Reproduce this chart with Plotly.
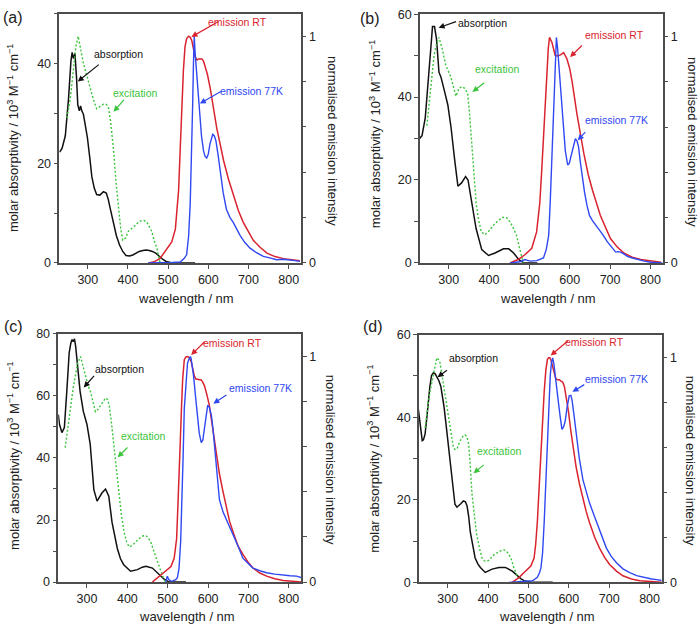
import plotly.graph_objects as go

FONT = "Liberation Sans, Arial, sans-serif"
AXIS_COL = "#4d4d4d"
BLACK, GREEN, RED, BLUE = "#111111", "#3cc43c", "#d9232e", "#2f48f2"

# ---- panel (a) ----
a_abs_nm = [230, 236, 244, 252, 258, 261, 264, 268, 272, 275, 279, 282, 285, 289, 294, 299, 305, 310, 316, 322, 330, 339, 346, 351, 357, 363, 371, 379, 387, 395, 404, 412, 420, 428, 437, 445, 453, 461, 470, 478, 487, 495, 503, 511, 567]
a_abs_val = [22.2, 23.0, 25.5, 33.0, 40.5, 42.2, 41.0, 42.0, 37.0, 31.7, 30.5, 31.5, 30.5, 29.8, 27.5, 25.1, 21.0, 17.3, 15.0, 13.7, 13.6, 14.3, 14.0, 12.7, 10.5, 8.2, 5.5, 3.6, 2.3, 1.5, 1.4, 1.6, 2.0, 2.3, 2.5, 2.6, 2.5, 2.3, 1.9, 1.3, 0.7, 0.3, 0.1, 0.0, 0.0]
a_exc_nm = [248, 256, 264, 270, 276, 282, 289, 297, 306, 314, 322, 330, 339, 345, 351, 357, 364, 370, 376, 382, 387, 394, 401, 409, 418, 426, 434, 440, 447, 453, 459, 465, 472, 476, 480]
a_exc_val = [0.64, 0.72, 0.85, 0.95, 1.0, 0.94, 0.88, 0.83, 0.77, 0.72, 0.68, 0.69, 0.70, 0.70, 0.69, 0.62, 0.50, 0.36, 0.24, 0.15, 0.10, 0.11, 0.14, 0.15, 0.165, 0.18, 0.187, 0.187, 0.18, 0.16, 0.14, 0.10, 0.065, 0.03, 0.0]
a_rt_nm = [451, 465, 480, 496, 509, 518, 526, 530, 534, 538, 542, 546, 551, 555, 559, 563, 567, 572, 576, 580, 584, 588, 592, 598, 605, 613, 621, 630, 638, 650, 663, 675, 687, 700, 712, 728, 746, 766, 787, 808, 828]
a_rt_val = [0.0, 0.005, 0.02, 0.058, 0.093, 0.15, 0.32, 0.50, 0.70, 0.85, 0.954, 0.99, 1.0, 0.995, 0.98, 0.95, 0.91, 0.895, 0.9, 0.9, 0.9, 0.89, 0.868, 0.83, 0.768, 0.68, 0.595, 0.52, 0.452, 0.37, 0.294, 0.23, 0.179, 0.135, 0.1, 0.07, 0.043, 0.028, 0.019, 0.014, 0.01]
a_77k_nm = [450, 480, 510, 530, 540, 546, 551, 555, 558, 561, 563, 565, 567, 571, 575, 579, 583, 588, 592, 596, 600, 604, 608, 611, 615, 619, 624, 629, 637, 645, 654, 662, 670, 679, 691, 704, 720, 737, 753, 770, 786, 803, 816, 828]
a_77k_val = [0.0, 0.0, 0.002, 0.004, 0.02, 0.036, 0.12, 0.265, 0.45, 0.696, 0.88, 1.0, 0.93, 0.84, 0.75, 0.653, 0.56, 0.495, 0.47, 0.463, 0.48, 0.524, 0.55, 0.567, 0.56, 0.538, 0.48, 0.41, 0.31, 0.237, 0.2, 0.179, 0.15, 0.122, 0.09, 0.065, 0.045, 0.029, 0.022, 0.014, 0.016, 0.014, 0.01, 0.007]

# ---- panel (b) ----
b_abs_nm = [227, 234, 242, 247, 252, 256, 260, 265, 270, 273, 276, 281, 285, 290, 298, 306, 315, 323, 332, 342, 348, 357, 368, 382, 399, 415, 436, 449, 461, 474, 486, 520]
b_abs_val = [29.9, 30.7, 35.0, 40.5, 46.0, 52.0, 57.0, 57.0, 53.9, 50.0, 46.0, 44.8, 43.5, 41.3, 38.1, 32.6, 24.8, 18.5, 19.3, 20.8, 20.0, 14.6, 8.3, 3.2, 1.8, 2.4, 3.4, 3.4, 2.4, 0.8, 0.0, 0.0]
b_exc_nm = [246, 252, 259, 264, 269, 276, 284, 293, 305, 312, 318, 326, 333, 339, 347, 351, 356, 362, 368, 374, 381, 390, 398, 406, 414, 425, 435, 444, 452, 460, 468, 475, 481, 485]
b_exc_val = [0.607, 0.72, 0.845, 0.92, 0.961, 0.997, 0.947, 0.874, 0.824, 0.78, 0.737, 0.773, 0.78, 0.773, 0.752, 0.68, 0.557, 0.41, 0.267, 0.19, 0.137, 0.125, 0.137, 0.155, 0.173, 0.19, 0.202, 0.2, 0.181, 0.155, 0.123, 0.07, 0.022, 0.0]
b_rt_nm = [452, 472, 489, 506, 518, 526, 531, 535, 539, 543, 547, 550, 556, 564, 570, 577, 585, 593, 600, 606, 618, 635, 646, 656, 676, 701, 718, 735, 755, 776, 800, 826]
b_rt_val = [0.0, 0.015, 0.036, 0.065, 0.137, 0.267, 0.42, 0.557, 0.71, 0.845, 0.95, 0.997, 0.975, 0.918, 0.915, 0.92, 0.93, 0.903, 0.86, 0.802, 0.658, 0.484, 0.39, 0.325, 0.21, 0.108, 0.07, 0.043, 0.025, 0.015, 0.008, 0.003]
b_77k_nm = [452, 477, 489, 502, 518, 535, 542, 548, 552, 556, 559, 562, 565, 567, 570, 573, 577, 581, 585, 589, 595, 599, 603, 608, 614, 618, 622, 626, 631, 637, 643, 649, 656, 664, 672, 682, 693, 704, 714, 720, 726, 734, 743, 755, 768, 785, 801, 830]
b_77k_val = [0.0, 0.005, 0.015, 0.008, 0.01, 0.022, 0.06, 0.123, 0.28, 0.484, 0.64, 0.773, 0.92, 0.997, 0.95, 0.874, 0.76, 0.658, 0.57, 0.498, 0.433, 0.44, 0.47, 0.51, 0.549, 0.54, 0.513, 0.45, 0.383, 0.31, 0.253, 0.21, 0.188, 0.17, 0.152, 0.125, 0.094, 0.07, 0.048, 0.05, 0.048, 0.04, 0.029, 0.022, 0.015, 0.008, 0.003, 0.0]

# ---- panel (c) ----
c_abs_nm = [229, 232, 238, 244, 250, 256, 260, 263, 266, 269, 272, 275, 279, 283, 291, 300, 308, 312, 317, 325, 331, 337, 346, 354, 362, 368, 375, 383, 391, 408, 425, 437, 446, 462, 475, 483, 491, 504, 545]
c_abs_val = [54.0, 50.8, 48.2, 49.8, 61.4, 74.0, 77.0, 78.2, 77.5, 78.4, 76.0, 71.9, 66.0, 61.4, 55.0, 50.8, 44.5, 37.0, 29.8, 26.1, 27.5, 28.7, 30.0, 27.7, 19.3, 15.0, 10.9, 7.5, 5.6, 3.5, 4.0, 4.8, 5.1, 4.5, 3.0, 2.0, 0.9, 0.0, 0.0]
c_exc_nm = [246, 252, 259, 265, 271, 277, 284, 290, 296, 302, 309, 315, 321, 327, 334, 340, 346, 351, 355, 361, 367, 373, 379, 385, 392, 398, 404, 410, 417, 425, 433, 440, 446, 452, 458, 464, 471, 477, 483, 489, 494]
c_exc_val = [0.596, 0.68, 0.769, 0.85, 0.913, 0.97, 1.0, 0.96, 0.913, 0.875, 0.842, 0.8, 0.755, 0.765, 0.784, 0.80, 0.816, 0.81, 0.784, 0.70, 0.596, 0.49, 0.394, 0.3, 0.221, 0.18, 0.156, 0.16, 0.171, 0.185, 0.199, 0.205, 0.206, 0.195, 0.177, 0.145, 0.106, 0.075, 0.048, 0.02, 0.0]
c_rt_nm = [462, 479, 495, 508, 516, 522, 525, 529, 531, 534, 537, 541, 545, 549, 553, 558, 562, 566, 570, 574, 578, 583, 587, 591, 597, 603, 609, 616, 622, 628, 637, 645, 653, 662, 674, 687, 699, 711, 728, 745, 765, 786, 810, 832]
c_rt_val = [0.0, 0.026, 0.048, 0.069, 0.106, 0.192, 0.33, 0.48, 0.62, 0.769, 0.9, 0.986, 0.998, 1.0, 0.995, 0.978, 0.95, 0.913, 0.9, 0.899, 0.898, 0.896, 0.885, 0.87, 0.83, 0.784, 0.71, 0.625, 0.55, 0.48, 0.4, 0.336, 0.27, 0.221, 0.16, 0.12, 0.088, 0.062, 0.04, 0.026, 0.015, 0.007, 0.003, 0.0]
c_77k_nm = [495, 499, 502, 504, 508, 512, 516, 520, 524, 528, 532, 535, 538, 541, 545, 549, 553, 556, 558, 561, 564, 569, 574, 578, 583, 587, 591, 595, 599, 603, 608, 612, 616, 622, 628, 637, 645, 653, 662, 674, 686, 699, 711, 728, 745, 765, 786, 803, 819, 832]
c_77k_val = [0.0, 0.026, 0.012, 0.01, 0.004, 0.005, 0.006, 0.01, 0.02, 0.062, 0.18, 0.336, 0.55, 0.769, 0.9, 0.971, 0.99, 1.0, 0.99, 0.96, 0.913, 0.82, 0.726, 0.66, 0.618, 0.63, 0.683, 0.74, 0.784, 0.775, 0.74, 0.68, 0.596, 0.47, 0.365, 0.31, 0.279, 0.245, 0.206, 0.16, 0.106, 0.085, 0.062, 0.05, 0.041, 0.035, 0.03, 0.028, 0.026, 0.019]

# ---- panel (d) ----
d_abs_nm = [226, 231, 234, 237, 240, 244, 248, 252, 256, 260, 265, 269, 274, 278, 283, 287, 291, 295, 302, 310, 318, 323, 327, 333, 339, 344, 348, 352, 356, 362, 368, 375, 381, 393, 410, 427, 443, 460, 472, 481, 489, 506, 560]
d_abs_val = [43.0, 39.1, 36.0, 34.3, 34.5, 35.9, 39.5, 43.8, 47.5, 50.1, 50.8, 50.5, 49.7, 48.9, 47.5, 45.4, 42.5, 39.1, 32.8, 26.4, 18.9, 18.2, 18.5, 19.1, 19.7, 19.5, 18.5, 16.0, 12.2, 9.0, 5.9, 4.4, 3.6, 2.4, 3.2, 3.6, 3.6, 2.7, 1.6, 0.9, 0.4, 0.0, 0.0]
d_exc_nm = [244, 250, 256, 260, 265, 269, 273, 277, 281, 285, 290, 296, 302, 308, 314, 318, 323, 329, 335, 339, 343, 348, 352, 356, 360, 366, 372, 379, 385, 391, 398, 404, 410, 418, 427, 433, 439, 445, 452, 458, 464, 468, 472, 477, 481]
d_exc_val = [0.686, 0.77, 0.846, 0.88, 0.918, 0.96, 0.997, 0.99, 0.976, 0.93, 0.874, 0.8, 0.73, 0.66, 0.6, 0.59, 0.592, 0.62, 0.643, 0.65, 0.655, 0.645, 0.614, 0.52, 0.397, 0.3, 0.209, 0.15, 0.108, 0.095, 0.094, 0.1, 0.115, 0.127, 0.137, 0.142, 0.144, 0.14, 0.123, 0.1, 0.065, 0.045, 0.029, 0.012, 0.0]
d_rt_nm = [460, 477, 493, 506, 514, 518, 522, 526, 531, 535, 539, 543, 547, 550, 553, 556, 560, 564, 568, 572, 576, 580, 585, 589, 593, 599, 605, 611, 618, 626, 635, 643, 651, 664, 676, 689, 701, 718, 734, 755, 776, 800, 830]
d_rt_val = [0.0, 0.022, 0.05, 0.072, 0.108, 0.17, 0.267, 0.41, 0.556, 0.7, 0.846, 0.94, 0.99, 0.997, 0.997, 0.985, 0.961, 0.93, 0.903, 0.9, 0.9, 0.895, 0.889, 0.87, 0.831, 0.76, 0.672, 0.59, 0.513, 0.44, 0.369, 0.315, 0.267, 0.2, 0.152, 0.11, 0.079, 0.05, 0.029, 0.015, 0.007, 0.004, 0.0]
d_77k_nm = [452, 485, 510, 522, 527, 531, 535, 539, 543, 547, 551, 554, 557, 560, 563, 566, 570, 575, 579, 583, 587, 591, 596, 601, 605, 608, 613, 618, 626, 635, 643, 651, 662, 672, 683, 693, 705, 718, 734, 751, 768, 785, 805, 818, 830]
d_77k_val = [0.0, 0.003, 0.007, 0.022, 0.04, 0.065, 0.13, 0.267, 0.45, 0.629, 0.8, 0.918, 0.975, 0.997, 0.97, 0.918, 0.85, 0.788, 0.73, 0.679, 0.69, 0.716, 0.78, 0.828, 0.83, 0.809, 0.74, 0.657, 0.55, 0.455, 0.4, 0.354, 0.3, 0.253, 0.2, 0.152, 0.115, 0.087, 0.06, 0.043, 0.03, 0.022, 0.015, 0.012, 0.008]

X_RANGE = [229, 830]
X_TICKS = [300, 400, 500, 600, 700, 800]
RIGHT_TICKS = [0, 0.2, 0.4, 0.6, 0.8, 1.0]
RIGHT_TEXT = ["0", "", "", "", "", "1"]

W, H = 700, 635


def px_x(x):
    return min(1.0, max(0.0, x / W))


def px_y(y):
    return min(1.0, max(0.0, 1 - y / H))


# per panel: label, frame box in window pixels (left, right, top, bottom), left max, data, label spots
panels = [
    dict(label="(a)", box=(59.3, 300.7, 6.7, 261.7), ymax=50,
         data=(a_abs_nm, a_abs_val, a_exc_nm, a_exc_val, a_rt_nm, a_rt_val, a_77k_nm, a_77k_val),
         notes=[("absorption", BLACK, (376, 0.92), (331, 0.88), (275, 0.80)),
                ("excitation", GREEN, (418, 0.75), (393, 0.726), (364, 0.667)),
                ("emission RT", RED, (673, 1.062), (629, 1.069), (558, 0.997)),
                ("emission 77K", BLUE, (707, 0.76), (635, 0.76), (579, 0.703))],
         lab=(13, 11), xt=(186, 298), yl=(13, 134), yr=(332, 137)),
    dict(label="(b)", box=(420, 662.5, 7.3, 261.7), ymax=60,
         data=(b_abs_nm, b_abs_val, b_exc_nm, b_exc_val, b_rt_nm, b_rt_val, b_77k_nm, b_77k_val),
         notes=[("absorption", BLACK, (385, 1.062), (322, 1.069), (275, 1.04)),
                ("excitation", GREEN, (422, 0.857), (392, 0.802), (359, 0.756)),
                ("emission RT", RED, (711, 1.007), (634, 0.968), (601, 0.91)),
                ("emission 77K", BLUE, (717, 0.632), (642, 0.585), (620, 0.542))],
         lab=(370, 12), xt=(548, 298), yl=(375, 130), yr=(692, 138)),
    dict(label="(c)", box=(58.3, 301, 334.3, 588), ymax=80,
         data=(c_abs_nm, c_abs_val, c_exc_nm, c_exc_val, c_rt_nm, c_rt_val, c_77k_nm, c_77k_val),
         notes=[("absorption", BLACK, (381, 0.945), (321, 0.921), (292, 0.863)),
                ("excitation", GREEN, (441, 0.649), (404, 0.603), (376, 0.553)),
                ("emission RT", RED, (661, 1.061), (595, 1.072), (558, 1.007)),
                ("emission 77K", BLUE, (730, 0.86), (649, 0.834), (613, 0.791))],
         lab=(13, 327), xt=(187, 623), yl=(13, 459), yr=(330, 463)),
    dict(label="(d)", box=(419, 661.7, 335, 588.3), ymax=60,
         data=(d_abs_nm, d_abs_val, d_exc_nm, d_exc_val, d_rt_nm, d_rt_val, d_77k_nm, d_77k_val),
         notes=[("absorption", BLACK, (364, 0.997), (302, 0.947), (275, 0.911)),
                ("excitation", GREEN, (428, 0.582), (393, 0.527), (364, 0.484)),
                ("emission RT", RED, (663, 1.065), (601, 1.077), (555, 1.007)),
                ("emission 77K", BLUE, (717, 0.903), (642, 0.882), (609, 0.846))],
         lab=(373, 327), xt=(547, 623), yl=(373, 462), yr=(690, 464)),
]

fig = go.Figure()
annotations = []
axis_common = dict(showgrid=False, zeroline=False, showline=True, linecolor=AXIS_COL, linewidth=1.5,
                   ticks="outside", ticklen=4, tickwidth=1.3, tickcolor=AXIS_COL,
                   tickfont=dict(family=FONT, size=12.5, color="#222"))
paper_text = dict(xref="paper", yref="paper", xanchor="center", yanchor="middle", showarrow=False)

for i, p in enumerate(panels, start=1):
    xa = "x" if i == 1 else f"x{i}"
    yl = "y" if i == 1 else f"y{2 * i - 1}"
    yr = f"y{2 * i}"
    abs_x, abs_y, exc_x, exc_y, rt_x, rt_y, k_x, k_y = p["data"]

    fig.add_trace(go.Scatter(x=abs_x, y=abs_y, xaxis=xa, yaxis=yl, mode="lines",
                             line=dict(color=BLACK, width=1.5), showlegend=False))
    fig.add_trace(go.Scatter(x=exc_x, y=exc_y, xaxis=xa, yaxis=yr, mode="lines",
                             line=dict(color=GREEN, width=1.4, dash="2px,2px"), showlegend=False))
    fig.add_trace(go.Scatter(x=rt_x, y=rt_y, xaxis=xa, yaxis=yr, mode="lines",
                             line=dict(color=RED, width=1.5), showlegend=False))
    fig.add_trace(go.Scatter(x=k_x, y=k_y, xaxis=xa, yaxis=yr, mode="lines",
                             line=dict(color=BLUE, width=1.4), showlegend=False))

    left, right, top, bottom = p["box"]
    xname = "xaxis" if i == 1 else f"xaxis{i}"
    ylname = "yaxis" if i == 1 else f"yaxis{2 * i - 1}"
    yrname = f"yaxis{2 * i}"
    left_ticks = list(range(0, p["ymax"] + 1, 10))
    left_text = [str(v) if v % 20 == 0 else "" for v in left_ticks]
    fig.update_layout({
        xname: dict(axis_common, domain=[px_x(left), px_x(right)], range=X_RANGE, tickvals=X_TICKS,
                    mirror=True, anchor=yl),
        ylname: dict(axis_common, domain=[px_y(bottom), px_y(top)], range=[0, p["ymax"]],
                     tickvals=left_ticks, ticktext=left_text, anchor=xa),
        yrname: dict(axis_common, range=[0, 1.1], tickvals=RIGHT_TICKS, ticktext=RIGHT_TEXT,
                     overlaying=yl, side="right", anchor=xa),
    })

    for text, col, (tx, ty), (ax, ay), (hx, hy) in p["notes"]:
        annotations.append(dict(x=hx, y=hy, xref=xa, yref=yr, ax=ax, ay=ay, axref=xa, ayref=yr,
                                text="", showarrow=True, arrowhead=2, arrowsize=1, arrowwidth=1.2,
                                arrowcolor=col))
        annotations.append(dict(x=tx, y=ty, xref=xa, yref=yr, text=text, showarrow=False,
                                xanchor="center", yanchor="middle",
                                font=dict(family=FONT, size=10.5, color=col)))

    annotations.append(dict(paper_text, x=px_x(p["lab"][0]), y=px_y(p["lab"][1]), text=p["label"],
                            font=dict(family=FONT, size=16, color="#222")))
    annotations.append(dict(paper_text, x=px_x(p["xt"][0]), y=px_y(p["xt"][1]), text="wavelength / nm",
                            font=dict(family=FONT, size=13, color="#222")))
    annotations.append(dict(paper_text, x=px_x(p["yl"][0]), y=px_y(p["yl"][1]),
                            text="molar absorptivity / 10<sup>3</sup> M<sup>−1</sup> cm<sup>−1</sup>",
                            textangle=-90, font=dict(family=FONT, size=13, color="#222")))
    annotations.append(dict(paper_text, x=px_x(p["yr"][0]), y=px_y(p["yr"][1]),
                            text="normalised emission intensity", textangle=90,
                            font=dict(family=FONT, size=13, color="#222")))

fig.update_layout(width=W, height=H, margin=dict(l=0, r=0, t=0, b=0),
                  paper_bgcolor="white", plot_bgcolor="white", annotations=annotations,
                  showlegend=False)
# drop the browser's default 8px page margin so the figure fills the window
fig.write_html("out.html", config={"displayModeBar": False},
               post_script="document.body.style.margin = '0';")
